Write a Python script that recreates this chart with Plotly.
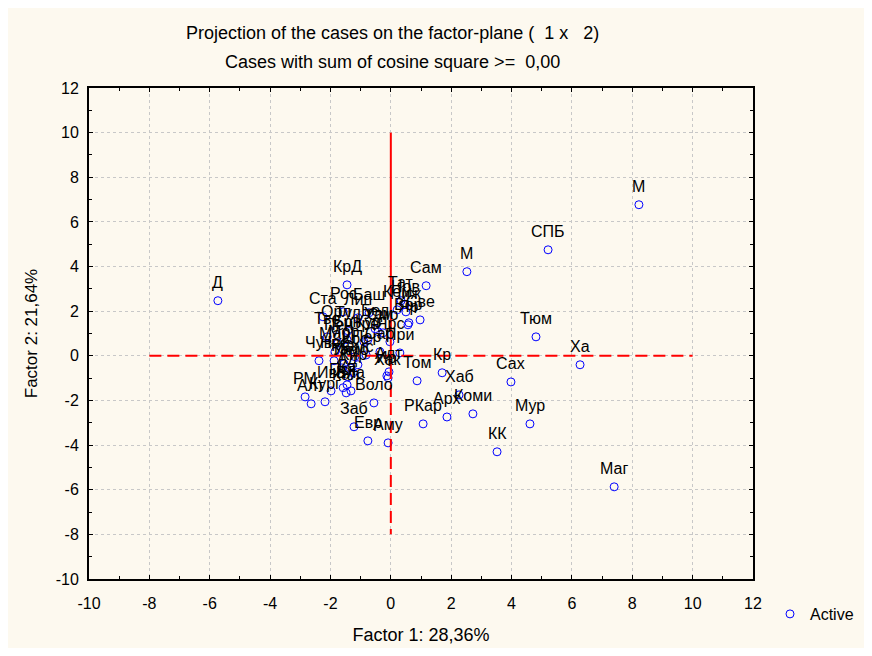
import plotly.graph_objects as go

labels = ["М", "СПБ", "М", "Д", "Тюм", "Ха", "Сах", "Мур", "КК", "Маг",
          "Сам", "КрД", "Кр", "Хаб", "Коми", "Арх", "РКар", "Том", "Ир", "Аму",
          "Евр", "Заб", "Воло", "РМ", "Алт", "Кург", "Ива", "Пск", "Кал", "Вла",
          "Чув", "Тат", "Рос", "Баш", "Ниж", "Ста", "Лип", "Бел", "Све", "Нов",
          "Кем", "Тве", "Орл", "Тул", "Смо", "Пен", "Брн", "Кур", "При", "Ярс",
          "Вор", "Удм", "Мар", "Мор", "Кос", "Ряз", "Тамб", "Кир", "Нвс", "Омс",
          "Пер", "Сар", "Ул", "Ад", "Ка", "Оре", "Хак", "Алт", "Яр"]
f1 = [8.22, 5.21, 2.52, -5.73, 4.81, 6.27, 3.98, 4.61, 3.52, 7.40,
      1.17, -1.45, 1.70, 2.26, 2.72, 1.86, 1.07, 0.87, -0.13, -0.09,
      -0.76, -1.22, -0.56, -2.84, -2.64, -2.18, -1.98, -1.58, -1.48, -1.32,
      -2.38, 0.34, -1.58, -0.72, 0.50, -2.25, -1.09, -0.52, 0.97, 0.47,
      0.21, -2.11, -1.82, -1.42, -0.26, -1.75, -1.45, -0.76, 0.30, -0.03,
      0.60, -0.42, -1.85, -1.58, -1.19, -1.55, -1.35, -1.25, -1.88, -1.09,
      -0.82, -0.36, -1.62, -1.42, -1.45, -0.89, -0.09, -0.06, 0.57]
f2 = [6.77, 4.75, 3.77, 2.47, 0.85, -0.40, -1.17, -3.05, -4.30, -5.87,
      3.14, 3.18, -0.76, -1.75, -2.60, -2.74, -3.05, -1.12, -0.90, -3.90,
      -3.81, -3.18, -2.11, -1.84, -2.15, -2.06, -1.57, -1.43, -1.66, -1.57,
      -0.22, 2.47, 1.97, 1.93, 1.97, 1.75, 1.70, 1.21, 1.61, 2.29,
      2.06, 0.85, 1.17, 1.12, 1.03, 0.58, 0.72, 0.72, 0.13, 0.63,
      1.48, 1.08, 0.18, 0.27, -0.04, -0.36, -0.54, -0.76, -0.22, -0.40,
      0.04, 0.18, -0.54, -0.94, -1.30, 0.63, -0.99, -0.72, 1.39]

x_ticks = list(range(-10, 13, 2))
y_ticks = list(range(-10, 13, 2))

FONT = "Liberation Sans, Arial, sans-serif"

# plot area in page pixels (page has 8px body offset)
PX0, PX1, PY0, PY1 = 89, 753, 88, 579
PW, PH = PX1 - PX0, PY1 - PY0

def px(x):
    return (x - PX0) / PW

def py(y):
    return (PY1 - y) / PH

fig = go.Figure()
fig.add_trace(go.Scatter(
    x=f1, y=f2, mode="markers", name="Active",
    marker=dict(symbol="circle-open", color="#0000FF", size=8, line=dict(width=1, color="#0000FF")),
    showlegend=True,
))

# reference lines (drawn above the grid)
fig.add_shape(type="line", x0=-8, x1=10, y0=0, y1=0, xref="x", yref="y",
              line=dict(color="#FF0000", width=2, dash="12px,6px"), layer="above")
fig.add_shape(type="line", x0=0, x1=0, y0=10, y1=-0.5, xref="x", yref="y",
              line=dict(color="#FF0000", width=2), layer="above")
fig.add_shape(type="line", x0=0, x1=0, y0=-0.5, y1=-8, xref="x", yref="y",
              line=dict(color="#FF0000", width=2, dash="12px,6px"), layer="above")

# point labels
for lab, xv, yv in zip(labels, f1, f2):
    fig.add_annotation(x=xv, y=yv, text=lab, showarrow=False, yshift=18,
                       font=dict(family=FONT, size=16, color="black"))

# background panel
fig.add_shape(type="rect", xref="paper", yref="paper",
              x0=px(8), x1=px(864), y0=py(648), y1=py(8),
              fillcolor="#FDF9EF", line=dict(width=0), layer="below")

fig.add_annotation(xref="paper", yref="paper", x=px(392), y=py(33),
                   xanchor="center", yanchor="middle",
                   text="Projection of the cases on the factor-plane ( \u00a01 x \u00a0 2)",
                   showarrow=False, font=dict(family=FONT, size=18, color="black"))
fig.add_annotation(xref="paper", yref="paper", x=px(392), y=py(62),
                   xanchor="center", yanchor="middle",
                   text="Cases with sum of cosine square >= \u00a00,00",
                   showarrow=False, font=dict(family=FONT, size=18, color="black"))

axis_common = dict(
    showline=True, linecolor="black", linewidth=2, mirror="ticks",
    ticks="inside", ticklen=4, tickcolor="black",
    showgrid=True, gridcolor="#C8C8C8", griddash="3px,3px", gridwidth=1,
    zeroline=False,
    tickfont=dict(family=FONT, size=16, color="black"),
    minor=dict(ticks="inside", ticklen=3, dtick=1, showgrid=False, tickcolor="black"),
)

fig.update_xaxes(range=[-10, 12], tickvals=x_ticks, ticktext=[str(v) for v in x_ticks],
                 ticklabelstandoff=9,
                 title=dict(text="Factor 1: 28,36%", font=dict(family=FONT, size=18, color="black"), standoff=17),
                 **axis_common)
fig.update_yaxes(range=[-10, 12], tickvals=y_ticks, ticktext=[str(v) for v in y_ticks],
                 ticklabelstandoff=5,
                 title=dict(text="Factor 2: 21,64%", font=dict(family=FONT, size=17, color="black"), standoff=14),
                 **axis_common)

fig.update_layout(
    width=872, height=656,
    margin=dict(l=81, r=127, t=80, b=85, pad=0),
    paper_bgcolor="white", plot_bgcolor="white",
    font=dict(family=FONT, size=16, color="black"),
    legend=dict(x=px(770), y=py(614), xanchor="left", yanchor="middle",
                bgcolor="rgba(0,0,0,0)", font=dict(family=FONT, size=16, color="black")),
    showlegend=True,
)

fig.write_html("out.html")
